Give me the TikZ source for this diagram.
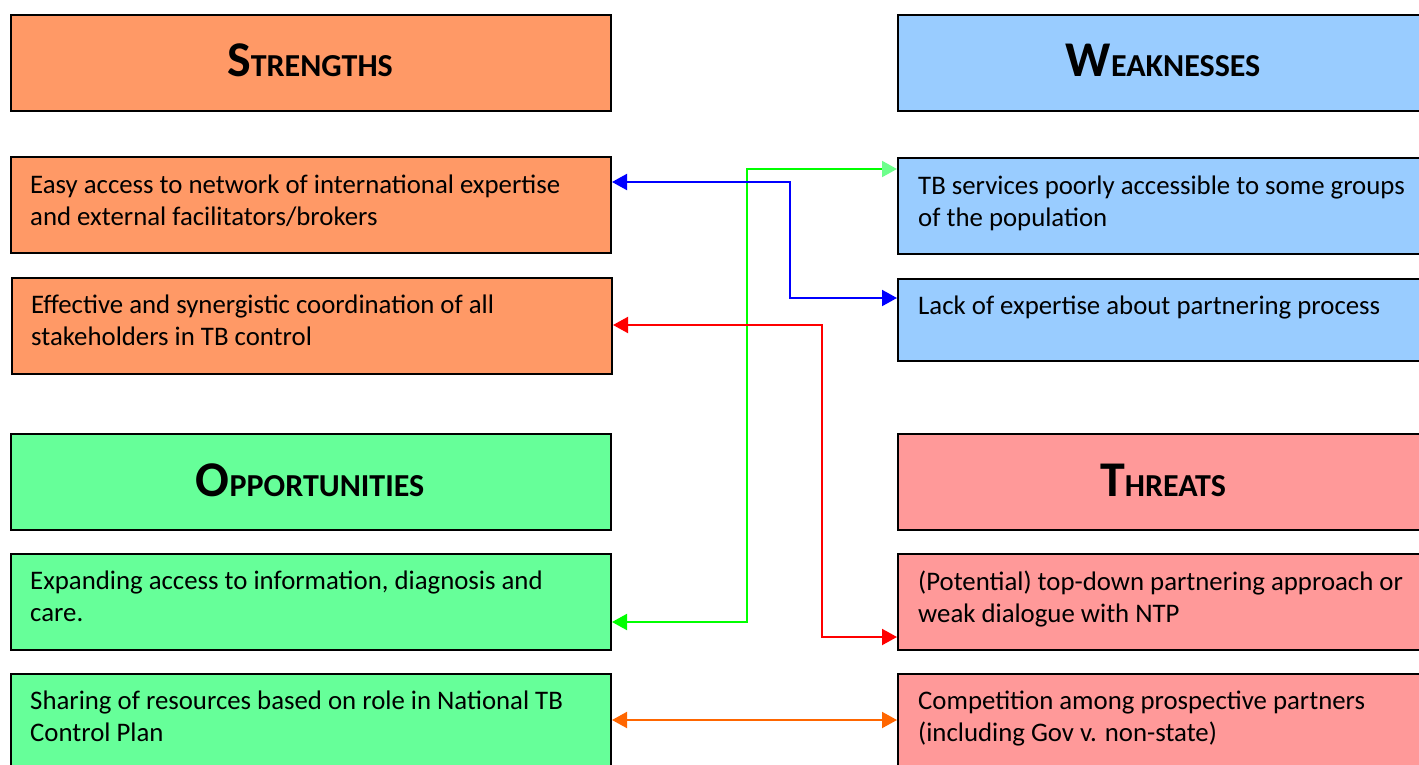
\documentclass[tikz,border=0pt]{standalone}
\usepackage{fontspec}
\setmainfont{Carlito}
\usetikzlibrary{arrows.meta,calc}
\definecolor{strC}{RGB}{255,153,102}
\definecolor{weakC}{RGB}{153,204,255}
\definecolor{oppC}{RGB}{102,255,153}
\definecolor{thrC}{RGB}{255,153,153}
\definecolor{lnGreen}{RGB}{0,255,0}
\definecolor{tipGreen}{RGB}{110,255,140}
\definecolor{lnBlue}{RGB}{0,0,255}
\definecolor{lnRed}{RGB}{255,0,0}
\definecolor{lnOrange}{RGB}{255,102,0}
\newcommand{\swothead}[2]{\bfseries\fontsize{50}{50}\selectfont #1\fontsize{32}{32}\selectfont #2}
\tikzset{
  box/.style={draw=black, line width=2pt, anchor=north west, inner sep=0pt,
    minimum width=600pt, minimum height=96pt},
  headtext/.style={anchor=base, inner sep=0pt},
  bodytext/.style={anchor=north west, inner sep=0pt, align=left,
    font=\fontsize{26.8}{32}\selectfont},
  link/.style={line width=2pt, {Triangle[length=15pt,width=16pt]}-{Triangle[length=15pt,width=16pt]}},
}
\begin{document}
\begin{tikzpicture}[x=1pt,y=-1pt]
\useasboundingbox (0,0) rectangle (1419,765);
% left column: strengths and opportunities
\node[box, fill=strC] (sh) at (10,14) {};
\node[box, fill=strC] (s1) at (10,156) {};
\node[box, fill=strC] (s2) at (11,277) {};
\node[box, fill=oppC] (oh) at (10,433) {};
\node[box, fill=oppC] (o1) at (10,553) {};
\node[box, fill=oppC, minimum height=100pt] (o2) at (10,673) {};
% right column: weaknesses and threats
\node[box, fill=weakC, minimum width=530pt] (wh) at (897,14) {};
\node[box, fill=weakC, minimum width=530pt] (w1) at (897,157) {};
\node[box, fill=weakC, minimum width=530pt, minimum height=82pt] (w2) at (897,278) {};
\node[box, fill=thrC, minimum width=530pt] (th) at (897,433) {};
\node[box, fill=thrC, minimum width=530pt] (t1) at (897,553) {};
\node[box, fill=thrC, minimum width=530pt, minimum height=100pt] (t2) at (897,673) {};
% headings
\node[headtext] (shT) at (310,77) {\swothead{S}{TRENGTHS}};
\node[headtext] (whT) at (1163,77) {\swothead{W}{EAKNESSES}};
\node[headtext] (ohT) at (310,496) {\swothead{O}{PPORTUNITIES}};
\node[headtext] (thT) at (1163,496) {\swothead{T}{HREATS}};
% item texts
\node[bodytext] (s1T) at (30,175) {Easy access to network of international expertise\\and external facilitators/brokers};
\node[bodytext] (s2T) at (31,295) {Effective and synergistic coordination of all\\stakeholders in TB control};
\node[bodytext] (o1T) at (30,571) {Expanding access to information, diagnosis and\\care.};
\node[bodytext] (o2T) at (30,691) {Sharing of resources based on role in National TB\\Control Plan};
\node[bodytext] (w1T) at (918,176) {TB services poorly accessible to some groups\\of the population};
\node[bodytext] (w2T) at (918,296) {Lack of expertise about partnering process};
\node[bodytext] (t1T) at (918,571) {(Potential) top-down partnering approach or\\weak dialogue with NTP};
\node[bodytext] (t2T) at (918,691) {Competition among prospective partners\\(including Gov v. non-state)};
% connectors
\draw[link, lnGreen, {Triangle[length=15pt,width=16pt]}-{Triangle[length=15pt,width=16pt,color=tipGreen]}]
  ($(o1.north east)+(0,69)$) -| (747,169) -- ($(w1.north west)+(0,12)$);
\draw[link, lnBlue] ($(s1.north east)+(0,26)$) -| (790,298) -- ($(w2.north west)+(0,20)$);
\draw[link, lnRed] ($(s2.north east)+(0,48)$) -| (822,637) -- ($(t1.north west)+(0,84)$);
\draw[link, lnOrange] ($(o2.north east)+(0,47)$) -- ($(t2.north west)+(0,47)$);
\end{tikzpicture}
\end{document}
